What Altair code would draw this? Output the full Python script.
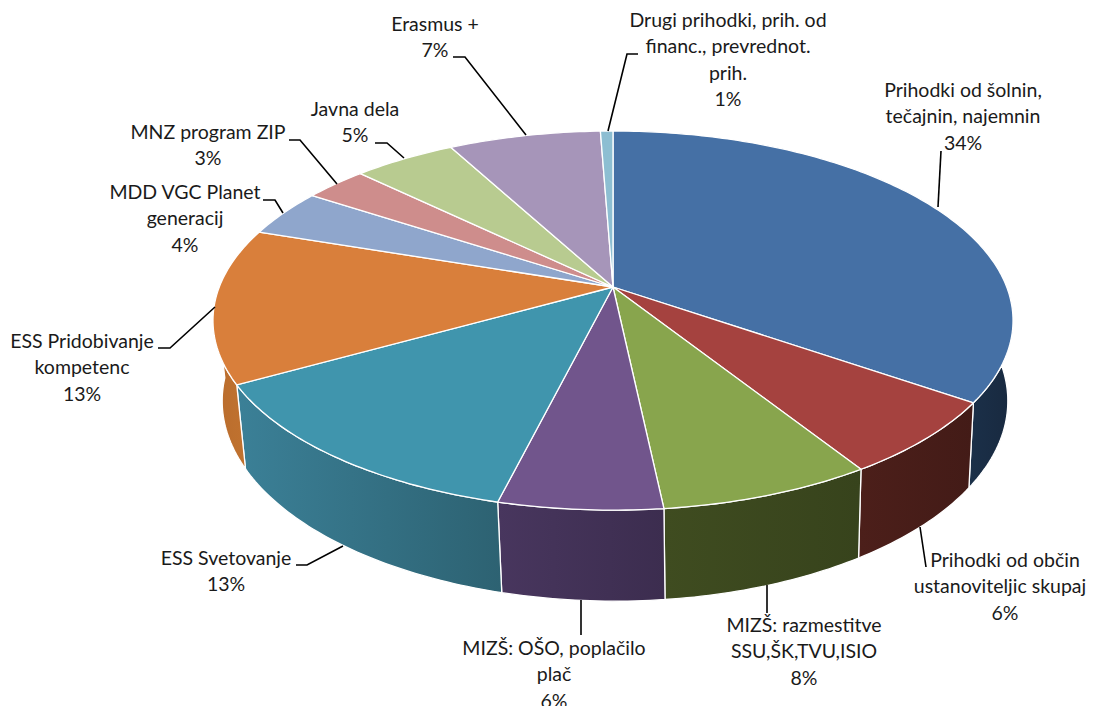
import math
import altair as alt
import pandas as pd

categories = ["Prihodki od šolnin, tečajnin, najemnin", "Prihodki od občin ustanoviteljic skupaj",
              "MIZŠ: razmestitve SSU,ŠK,TVU,ISIO", "MIZŠ: OŠO, poplačilo plač", "ESS Svetovanje",
              "ESS Pridobivanje kompetenc", "MDD VGC Planet generacij", "MNZ program ZIP", "Javna dela",
              "Erasmus +", "Drugi prihodki, prih. od financ., prevrednot. prih."]
shares = [34.6, 6.4, 7.3, 5.6, 13.0, 13.2, 4.1, 3.0, 4.9, 7.3, 0.6]
top_colors = ["#4570a5", "#a5423f", "#88a54d", "#71558c", "#4095ad", "#d97f3b",
              "#8fa6cc", "#ce8d8c", "#b8cb90", "#a695b9", "#8dbed2"]
wall_left = ["#1b3049", "#4c1f1a", "#3f4c20", "#48365e", "#3b8097", "#b96c2d"]
wall_right = ["#18293f", "#431b17", "#37431c", "#3c2d4f", "#2d6272", "#c0722f"]

label_lines = [
    (["Prihodki od šolnin,", "tečajnin, najemnin", "34%"], 963, 91),
    (["Prihodki od občin"], 1005, 561),
    (["ustanoviteljic skupaj"], 1000, 587.4),
    (["6%"], 1005, 613.8),
    (["MIZŠ: razmestitve", "SSU,ŠK,TVU,ISIO", "8%"], 804, 626),
    (["MIZŠ: OŠO, poplačilo", "plač", "6%"], 554, 649),
    (["ESS Svetovanje", "13%"], 226, 559),
    (["ESS Pridobivanje", "kompetenc", "13%"], 82, 342),
    (["MDD VGC Planet", "generacij", "4%"], 185, 193),
    (["MNZ program ZIP", "3%"], 208, 133),
    (["Javna dela", "5%"], 355, 110),
    (["Erasmus +", "7%"], 435, 25),
    (["Drugi prihodki, prih. od", "financ., prevrednot.", "prih.", "1%"], 728, 21),
]
leaders = [
    [(941, 151), (938, 207)],
    [(920, 527), (926, 567)],
    [(767, 585), (767, 613)],
    [(581, 600), (581, 635)],
    [(296, 565), (307, 565), (343, 546)],
    [(158, 348), (170, 348), (215, 307)],
    [(263, 200), (275, 200), (283, 213)],
    [(289, 140), (300, 140), (337, 184)],
    [(375, 143), (387, 143), (404, 158)],
    [(453, 57), (465, 57), (526, 135)],
    [(638, 54), (627, 54), (608, 131)],
]

HUB_X, HUB_Y = 613, 287
K, G, F = 0.177, 183.6, 393.7


def rim(p):
    t = 2 * math.pi * p / 100
    u, v = math.sin(t), -math.cos(t)
    d = 1 - K * v
    return HUB_X + F * u / d, HUB_Y + G * v / d


def low(p):
    x, y = rim(p)
    return HUB_X + 2 + 0.982 * (x - HUB_X), y + 85 + (y - 402) * 0.056


def frange(a, b, step=0.25):
    n = max(2, int(abs(b - a) / step) + 1)
    return [a + (b - a) * i / (n - 1) for i in range(n)]


xs = alt.X("x:Q", scale=alt.Scale(domain=[8, 1087], nice=False, zero=False), axis=None)
ys = alt.Y("y:Q", scale=alt.Scale(domain=[706, 8], nice=False, zero=False), axis=None)
order = alt.Order("i:Q")


def poly(points, fill, stroke="white", width=1.3):
    pts = list(points) + [points[0]]
    df = pd.DataFrame({"x": [p[0] for p in pts], "y": [p[1] for p in pts], "i": range(len(pts))})
    return alt.Chart(df).mark_line(fill=fill, stroke=stroke, strokeWidth=width, strokeJoin="round").encode(
        x=xs, y=ys, order=order)


edges = [0.0]
for s in shares:
    edges.append(edges[-1] + s)

layers = []
# side walls: front slices only, drawn before the top face
wall_spans = [(25.0, edges[1]), (edges[1], edges[2]), (edges[2], edges[3]),
              (edges[3], edges[4]), (edges[4], edges[5]), (edges[5], 74.0)]
for k, (a, b) in enumerate(wall_spans):
    ps = frange(a, b)
    outline = [rim(p) for p in ps] + [low(p) for p in reversed(ps)]
    grad = alt.LinearGradient(gradient="linear", x1=0, x2=1, y1=0, y2=0,
                              stops=[alt.GradientStop(color=wall_left[k], offset=0),
                                     alt.GradientStop(color=wall_right[k], offset=1)])
    layers.append(poly(outline, grad))

# top face
for k in range(len(shares)):
    outline = [(HUB_X, HUB_Y)] + [rim(p) for p in frange(edges[k], edges[k + 1])]
    layers.append(poly(outline, top_colors[k]))

# leader lines
rows = []
for j, seg in enumerate(leaders):
    for i, (x, y) in enumerate(seg):
        rows.append({"x": x, "y": y, "i": i, "cat": categories[j]})
layers.append(alt.Chart(pd.DataFrame(rows)).mark_line(color="black", strokeWidth=1.6).encode(
    x=xs, y=ys, order=order, detail="cat:N"))

# labels
rows = []
for lines, x, y in label_lines:
    for n, line in enumerate(lines):
        rows.append({"x": x, "y": y + n * 26.4, "t": line})
layers.append(alt.Chart(pd.DataFrame(rows)).mark_text(
    font="Lato", fontSize=19.5, color="#1a1a1a", align="center", baseline="middle").encode(
    x=xs, y=ys, text="t:N"))

chart = alt.layer(*layers).properties(
    width=1079, height=698, padding=0, background="white",
    autosize=alt.AutoSizeParams(type="none")).configure_view(strokeWidth=0, stroke=None)
chart.save("out.html", embed_options={"renderer": "svg", "actions": False})
